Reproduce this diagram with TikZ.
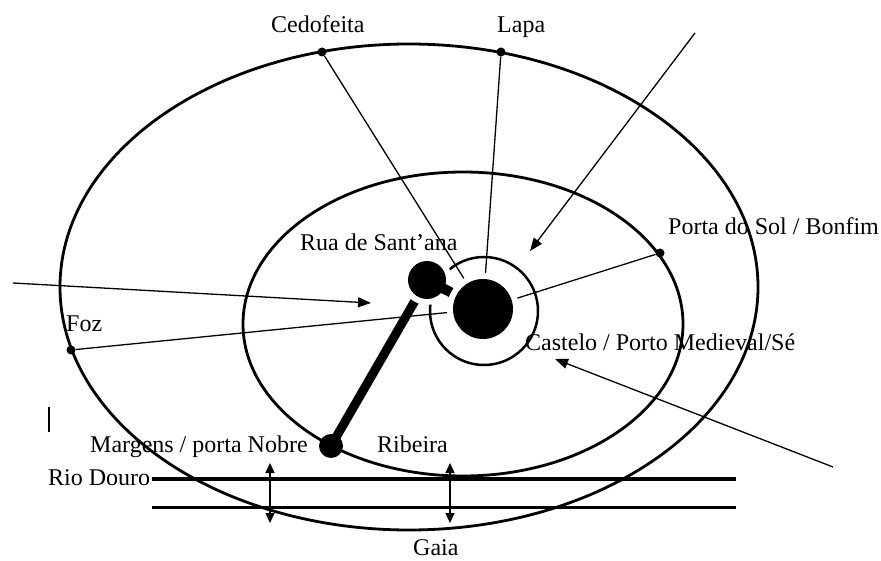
\documentclass[tikz,border=0pt]{standalone}
\usepackage{fontspec}
\setmainfont{Liberation Serif}
\usetikzlibrary{arrows.meta}
\begin{document}
\begin{tikzpicture}[x=1pt,y=-1pt,
  ring/.style={line width=2.8pt},
  link/.style={line width=1.3pt},
  arr/.style={line width=1.3pt,-{Triangle[length=13pt,width=10pt]}},
  darr/.style={line width=1.4pt,{Triangle[length=10pt,width=9pt]}-{Triangle[length=10pt,width=9pt]}},
  dot/.style={circle,fill=black,inner sep=0pt,minimum size=9pt},
  blob/.style={circle,fill=black,inner sep=0pt},
  lbl/.style={anchor=base west,inner sep=0pt,font=\fontsize{24}{28}\selectfont},
  river/.style={line width=3.6pt}
]
\useasboundingbox (0,0) rectangle (881,561);
\fill[white] (0,0) rectangle (881,561);

% rings
\draw[ring] (409,287) ellipse[x radius=349,y radius=243];
\draw[ring] (463,324) ellipse[x radius=220,y radius=152];

% river
\coordinate (r1a) at (152,479); \coordinate (r1b) at (736,479);
\coordinate (r2a) at (152,507); \coordinate (r2b) at (736,507);
\draw[river] (r1a) -- (r1b);
\draw[line width=3pt] (r2a) -- (r2b);
\coordinate (d1a) at (270,463); \coordinate (d1b) at (270,523);
\coordinate (d2a) at (450,463); \coordinate (d2b) at (450,523);
\draw[darr] (d1a) -- (d1b);
\draw[darr] (d2a) -- (d2b);

% cursor bar
\coordinate (c1) at (49,407); \coordinate (c2) at (49,432);
\draw[line width=1.5pt] (c1) -- (c2);

% points on rings
\node[dot] (ced) at (322,52) {};
\node[dot] (lapa) at (501,52) {};
\node[dot] (sol) at (660,253) {};
\node[dot] (foz) at (71,350) {};
\node[blob,minimum size=24pt] (nobre) at (331,446) {};
\coordinate (core) at (483,309);
\coordinate (rua) at (427,280);

% radial links
\draw[link] (ced) -- (core);
\draw[link] (lapa) -- (core);
\draw[link] (sol) -- (core);
\draw[link] (foz) -- (core);

% arrows
\coordinate (a1s) at (695,33); \coordinate (a1e) at (530,251);
\coordinate (a2s) at (13,283); \coordinate (a2e) at (371,303);
\coordinate (a3s) at (833,467); \coordinate (a3e) at (555,359);
\draw[arr] (a1s) -- (a1e);
\draw[arr] (a2s) -- (a2e);
\draw[arr] (a3s) -- (a3e);

% bar
\draw[line width=9pt] (nobre.center) -- (rua);

% castelo ring
\node[circle,draw,line width=2.5pt,inner sep=0pt,minimum size=108pt] (castelo) at (484,311) {};

% rua blob with halo
\fill[white] (rua) circle[radius=25];
\draw[line width=10pt] (rua) -- (core);
\node[blob,minimum size=38pt] (ruac) at (rua) {};

% core with halo
\fill[white] (core) circle[radius=36];
\node[blob,minimum size=60pt] (corec) at (core) {};

% labels
\node[lbl] (tced) at (271,33) {Cedofeita};
\node[lbl] (tlapa) at (497,33) {Lapa};
\node[lbl] (trua) at (300,251) {Rua de Sant’ana};
\node[lbl] (tsol) at (668,235) {Porta do Sol / Bonfim};
\node[lbl] (tfoz) at (66,332) {Foz};
\node[lbl] (tcast) at (525,351) {Castelo / Porto Medieval/Sé};
\node[lbl] (tnobre) at (90,452) {Margens / porta Nobre};
\node[lbl] (trib) at (377,452) {Ribeira};
\node[lbl] (tdouro) at (48,485) {Rio Douro};
\node[lbl] (tgaia) at (413,555) {Gaia};
\end{tikzpicture}
\end{document}
